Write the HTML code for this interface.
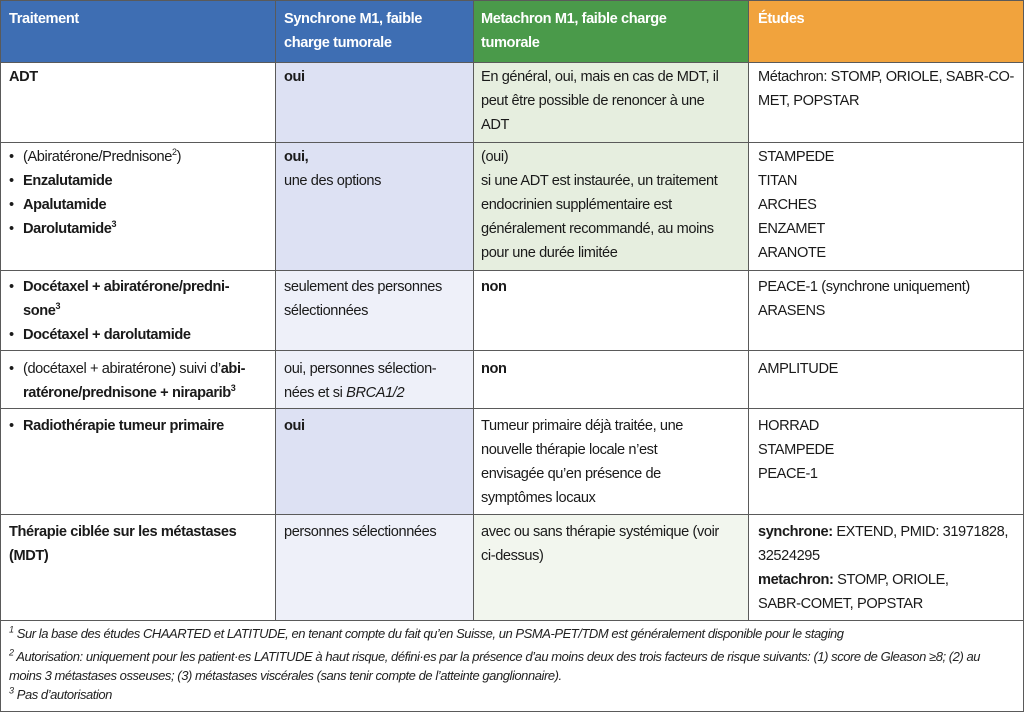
<!DOCTYPE html>
<html><head><meta charset="utf-8"><style>
body{margin:0;width:1024px;height:721px;background:#fff;position:relative;overflow:hidden;font-family:"Liberation Sans",sans-serif;color:#1a1a1a}
.c{position:absolute;box-sizing:border-box;border:1px solid #5a5a5a;margin:0}
.t{position:absolute;font-size:14.6px;line-height:24px;white-space:nowrap;letter-spacing:-0.4px}
.h{color:#fff;font-weight:bold}
b{font-weight:bold}
sup{font-size:9px;line-height:0}
.f{position:absolute;left:9px;font-size:13px;line-height:16px;font-style:italic;white-space:nowrap;letter-spacing:-0.45px;color:#222}
</style></head><body>
<div class="c" style="left:0;top:0;width:276px;height:63px;background:#3e6eb3"></div>
<div class="c" style="left:275px;top:0;width:199px;height:63px;background:#3e6eb3"></div>
<div class="c" style="left:473px;top:0;width:276px;height:63px;background:#4a9a4a"></div>
<div class="c" style="left:748px;top:0;width:276px;height:63px;background:#f1a33d"></div>
<div class="t h" style="left:9px;top:7px">Traitement</div>
<div class="t h" style="left:284px;top:7px">Synchrone M1, faible<br>charge tumorale</div>
<div class="t h" style="left:481px;top:7px">Metachron M1, faible charge<br>tumorale</div>
<div class="t h" style="left:758px;top:7px">Études</div>

<div class="c" style="left:0;top:62px;width:276px;height:81px"></div>
<div class="c" style="left:0;top:142px;width:276px;height:129px"></div>
<div class="c" style="left:0;top:270px;width:276px;height:81px"></div>
<div class="c" style="left:0;top:350px;width:276px;height:59px"></div>
<div class="c" style="left:0;top:408px;width:276px;height:107px"></div>
<div class="c" style="left:0;top:514px;width:276px;height:107px"></div>
<div class="c" style="left:275px;top:62px;width:199px;height:81px;background:#dde1f3"></div>
<div class="c" style="left:275px;top:142px;width:199px;height:129px;background:#dde1f3"></div>
<div class="c" style="left:275px;top:270px;width:199px;height:81px;background:#eef0f9"></div>
<div class="c" style="left:275px;top:350px;width:199px;height:59px;background:#eef0f9"></div>
<div class="c" style="left:275px;top:408px;width:199px;height:107px;background:#dde1f3"></div>
<div class="c" style="left:275px;top:514px;width:199px;height:107px;background:#eef0f9"></div>
<div class="c" style="left:473px;top:62px;width:276px;height:81px;background:#e6eedf"></div>
<div class="c" style="left:473px;top:142px;width:276px;height:129px;background:#e6eedf"></div>
<div class="c" style="left:473px;top:270px;width:276px;height:81px"></div>
<div class="c" style="left:473px;top:350px;width:276px;height:59px"></div>
<div class="c" style="left:473px;top:408px;width:276px;height:107px"></div>
<div class="c" style="left:473px;top:514px;width:276px;height:107px;background:#f2f6ee"></div>
<div class="c" style="left:748px;top:62px;width:276px;height:81px"></div>
<div class="c" style="left:748px;top:142px;width:276px;height:129px"></div>
<div class="c" style="left:748px;top:270px;width:276px;height:81px"></div>
<div class="c" style="left:748px;top:350px;width:276px;height:59px"></div>
<div class="c" style="left:748px;top:408px;width:276px;height:107px"></div>
<div class="c" style="left:748px;top:514px;width:276px;height:107px"></div>
<div class="c" style="left:0;top:620px;width:1024px;height:92px"></div>

<div class="t" style="left:9px;top:65px"><b>ADT</b></div>
<div class="t" style="left:284px;top:65px"><b>oui</b></div>
<div class="t" style="left:481px;top:65px">En général, oui, mais en cas de MDT, il<br>peut être possible de renoncer à une<br>ADT</div>
<div class="t" style="left:758px;top:65px">Métachron: STOMP, ORIOLE, SABR-CO-<br>MET, POPSTAR</div>
<div class="t" style="left:9px;top:145px">•<br>•<br>•<br>•</div>
<div class="t" style="left:23px;top:145px">(Abiratérone/Prednisone<sup>2</sup>)<br><b>Enzalutamide</b><br><b>Apalutamide</b><br><b>Darolutamide<sup>3</sup></b></div>
<div class="t" style="left:284px;top:145px"><b>oui,</b><br>une des options</div>
<div class="t" style="left:481px;top:145px">(oui)<br>si une ADT est instaurée, un traitement<br>endocrinien supplémentaire est<br>généralement recommandé, au moins<br>pour une durée limitée</div>
<div class="t" style="left:758px;top:145px">STAMPEDE<br>TITAN<br>ARCHES<br>ENZAMET<br>ARANOTE</div>
<div class="t" style="left:9px;top:275px">•<br><br>•</div>
<div class="t" style="left:23px;top:275px"><b>Docétaxel + abiratérone/predni-<br>sone<sup>3</sup><br>Docétaxel + darolutamide</b></div>
<div class="t" style="left:284px;top:275px">seulement des personnes<br>sélectionnées</div>
<div class="t" style="left:481px;top:275px"><b>non</b></div>
<div class="t" style="left:758px;top:275px">PEACE-1 (synchrone uniquement)<br>ARASENS</div>
<div class="t" style="left:9px;top:357px">•</div>
<div class="t" style="left:23px;top:357px">(docétaxel + abiratérone) suivi d’<b>abi-<br>ratérone/prednisone + niraparib<sup>3</sup></b></div>
<div class="t" style="left:284px;top:357px">oui, personnes sélection-<br>nées et si <i>BRCA1/2</i></div>
<div class="t" style="left:481px;top:357px"><b>non</b></div>
<div class="t" style="left:758px;top:357px">AMPLITUDE</div>
<div class="t" style="left:9px;top:414px">•</div>
<div class="t" style="left:23px;top:414px"><b>Radiothérapie tumeur primaire</b></div>
<div class="t" style="left:284px;top:414px"><b>oui</b></div>
<div class="t" style="left:481px;top:414px">Tumeur primaire déjà traitée, une<br>nouvelle thérapie locale n’est<br>envisagée qu’en présence de<br>symptômes locaux</div>
<div class="t" style="left:758px;top:414px">HORRAD<br>STAMPEDE<br>PEACE-1</div>
<div class="t" style="left:9px;top:520px"><b>Thérapie ciblée sur les métastases<br>(MDT)</b></div>
<div class="t" style="left:284px;top:520px">personnes sélectionnées</div>
<div class="t" style="left:481px;top:520px">avec ou sans thérapie systémique (voir<br>ci-dessus)</div>
<div class="t" style="left:758px;top:520px"><b>synchrone:</b> EXTEND, PMID: 31971828,<br>32524295<br><b>metachron:</b> STOMP, ORIOLE,<br>SABR-COMET, POPSTAR</div>

<div class="f" style="top:626px"><sup>1</sup> Sur la base des études CHAARTED et LATITUDE, en tenant compte du fait qu’en Suisse, un PSMA-PET/TDM est généralement disponible pour le staging</div>
<div class="f" style="top:649px"><sup>2</sup> Autorisation: uniquement pour les patient·es LATITUDE à haut risque, défini·es par la présence d’au moins deux des trois facteurs de risque suivants: (1) score de Gleason ≥8; (2) au</div>
<div class="f" style="top:668px">moins 3 métastases osseuses; (3) métastases viscérales (sans tenir compte de l’atteinte ganglionnaire).</div>
<div class="f" style="top:687px"><sup>3</sup> Pas d’autorisation</div>
</body></html>
